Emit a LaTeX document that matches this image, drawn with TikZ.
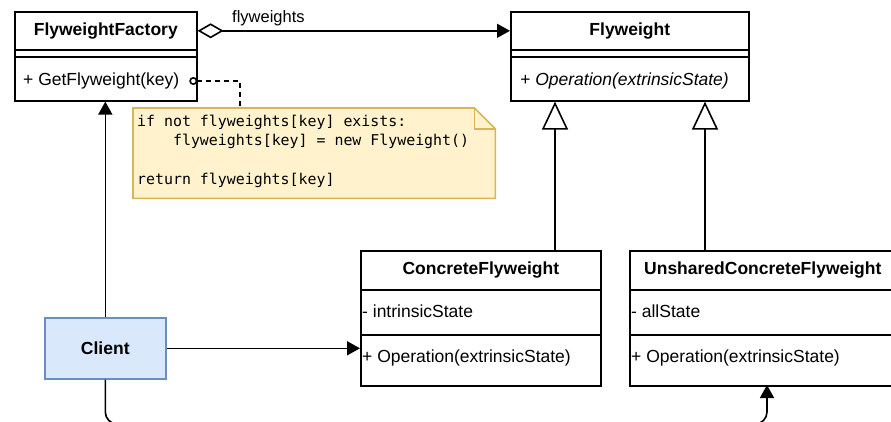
\documentclass[tikz,border=0pt]{standalone}
\usepackage{fontspec}
\setmainfont{Liberation Sans}
\newfontfamily\codefont{DejaVu Sans Mono}
\usetikzlibrary{arrows.meta}
\definecolor{noteFill}{HTML}{FFF2CC}
\definecolor{noteLine}{HTML}{D6B656}
\definecolor{clientFill}{HTML}{DAE8FC}
\definecolor{clientLine}{HTML}{6C8EBF}

\begin{document}
\begin{tikzpicture}[x=1pt,y=-1pt,
  lw/.style={line width=1.6pt},
  part/.style={draw, lw, inner sep=0pt, anchor=north west,
    font=\fontsize{17.5}{21}\selectfont\bfseries},
  member/.style={inner sep=0pt, anchor=west, font=\fontsize{17.5}{21}\selectfont},
  code/.style={inner sep=0pt, anchor=base west,
    font=\codefont\fontsize{14.9}{19.4}\selectfont},
  conn/.style={lw, draw=black},
  filled/.style={-{Triangle[length=13pt,width=14pt]}},
  inherit/.style={-{Triangle[length=28pt,width=26pt,fill=white]}},
]
% canvas
\useasboundingbox (0,0) rectangle (891,421);
\fill[white] (0,0) rectangle (891,421);
\clip (0,0) rectangle (891,421);

% FlyweightFactory
\node[part, minimum width=182pt, minimum height=38pt] (ffh) at (14,11) {FlyweightFactory};
\node[part, minimum width=182pt, minimum height=7pt] (ffattr) at (14,49) {};
\node[part, minimum width=182pt, minimum height=44pt] (ffops) at (14,56) {};
\node[member] (ffop) at (23,81) {+ GetFlyweight(key)};

% Flyweight
\node[part, minimum width=238pt, minimum height=38pt] (fwh) at (510,11) {Flyweight};
\node[part, minimum width=238pt, minimum height=7pt] (fwattr) at (510,49) {};
\node[part, minimum width=238pt, minimum height=44pt] (fwops) at (510,56) {};
\node[member] (fwop) at (520,81) {\itshape + Operation(extrinsicState)};

% ConcreteFlyweight
\node[part, minimum width=240pt, minimum height=39pt] (cfh) at (360,250) {ConcreteFlyweight};
\node[part, minimum width=240pt, minimum height=45pt] (cfattr) at (360,289) {};
\node[part, minimum width=240pt, minimum height=51pt] (cfops) at (360,334) {};
\node[member] (cfa) at (362,311) {- intrinsicState};
\node[member] (cfo) at (362,358) {+ Operation(extrinsicState)};

% UnsharedConcreteFlyweight
\node[part, minimum width=266pt, minimum height=39pt] (ush) at (629,250) {UnsharedConcreteFlyweight};
\node[part, minimum width=266pt, minimum height=45pt] (usattr) at (629,289) {};
\node[part, minimum width=266pt, minimum height=51pt] (usops) at (629,334) {};
\node[member] (usa) at (631,311) {- allState};
\node[member] (uso) at (631,358) {+ Operation(extrinsicState)};

% Client
\node[draw=clientLine, fill=clientFill, lw, inner sep=0pt, anchor=north west,
  minimum width=121pt, minimum height=61pt,
  font=\fontsize{17.5}{21}\selectfont\bfseries] (client) at (44,317) {Client};

% note with folded corner
\node[inner sep=0pt, anchor=north west, minimum width=362pt, minimum height=90pt] (note) at (133,108) {};
\filldraw[fill=noteFill, draw=noteLine, lw] (note.north west) -- ([xshift=-21pt]note.north east)
  -- ([yshift=-21pt]note.north east) -- (note.south east) -- (note.south west) -- cycle;
\draw[noteLine, lw] ([xshift=-21pt]note.north east) -- ([xshift=-21pt,yshift=-21pt]note.north east)
  -- ([yshift=-21pt]note.north east);
\node[code] (c1) at (137,126.3) {if not flyweights[key] exists:};
\node[code] (c2) at (137,145.7) {\phantom{if n}flyweights[key] = new Flyweight()};
\node[code] (c3) at (137,184.5) {return flyweights[key]};

% aggregation
\draw[conn, {Diamond[length=26pt,width=15pt,fill=white]}-{Triangle[length=13pt,width=14pt]}]
  (ffh.east) -- (fwh.west);
\node[member, font=\fontsize{16.5}{20}\selectfont] (agglbl) at (232,18) {flyweights};

% note attachment
\coordinate (port) at (189.3,81);
\coordinate (notein) at (240,108);
\draw[conn, dash pattern=on 5pt off 4pt, {Circle[length=8pt,width=8pt,fill=white]}-] (port) -| (notein);

% generalizations
\coordinate (g1) at (555,250);
\coordinate (g2) at (705,250);
\draw[conn, inherit] (g1) -- (g1 |- fwops.south);
\draw[conn, inherit] (g2) -- (g2 |- fwops.south);

% client associations
\draw[conn, filled] (client.north) -- (client.north |- ffops.south);
\draw[conn, filled] (client.east) -- (client.east -| cfops.west);
\coordinate (bot) at (0,424);
\coordinate (usin) at (767,385);
\draw[conn, filled, rounded corners=12pt] (client.south) -- (client.south |- bot) -- (usin |- bot) -- (usin);
\end{tikzpicture}
\end{document}
